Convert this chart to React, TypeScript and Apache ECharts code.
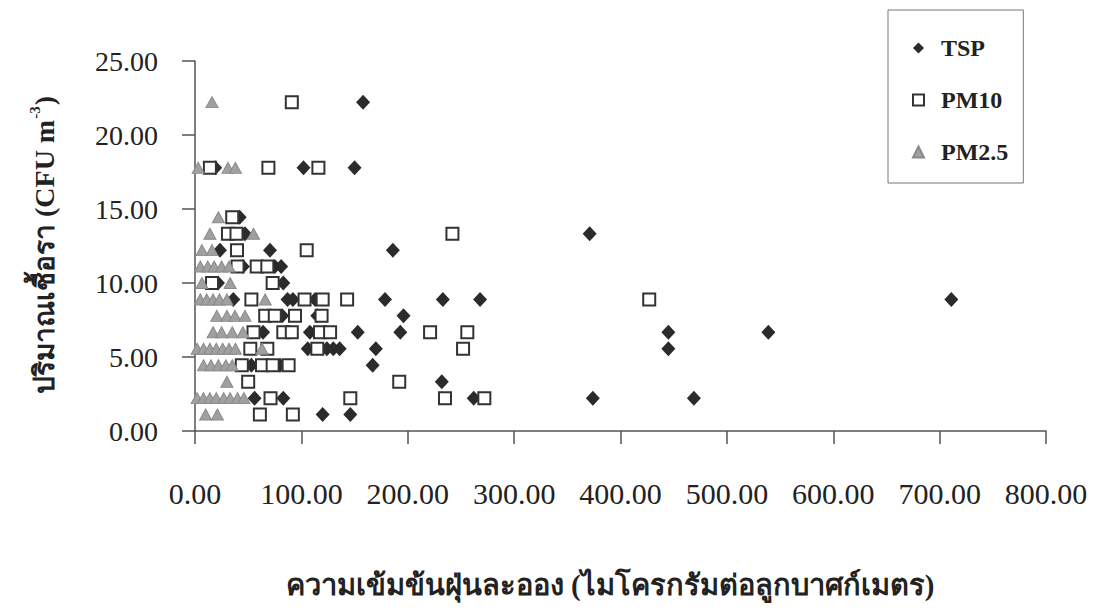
import React, { useEffect, useRef } from "react";
import * as echarts from "echarts";

// y levels are multiples of 1.11 CFU m^-3
const tspData: [number, number][] = [
  [158, 22.22],
  [19, 17.78], [102, 17.78], [150, 17.78],
  [42, 14.44],
  [47, 13.33], [371, 13.33],
  [23.5, 12.22], [70.5, 12.22], [186, 12.22],
  [45, 11.11], [75, 11.11], [81, 11.11],
  [21.6, 10.0], [83, 10.0],
  [36, 8.89], [87, 8.89], [92, 8.89], [113, 8.89], [178.6, 8.89], [233, 8.89], [268, 8.89], [711, 8.89],
  [82, 7.78], [115, 7.78], [196, 7.78],
  [64, 6.67], [108, 6.67], [153, 6.67], [193, 6.67], [445, 6.67], [539, 6.67],
  [106, 5.56], [124, 5.56], [130, 5.56], [136, 5.56], [170, 5.56], [445, 5.56],
  [53, 4.44], [80, 4.44], [167, 4.44],
  [232, 3.33],
  [56, 2.22], [83, 2.22], [262, 2.22], [374, 2.22], [469, 2.22],
  [120, 1.11], [146, 1.11],
];

const pm10Data: [number, number][] = [
  [91, 22.22],
  [14, 17.78], [69, 17.78], [116, 17.78],
  [35, 14.44],
  [31, 13.33], [39, 13.33], [242, 13.33],
  [39.5, 12.22], [105, 12.22],
  [40, 11.11], [58, 11.11], [68, 11.11],
  [16, 10.0], [73, 10.0],
  [53, 8.89], [103, 8.89], [120, 8.89], [143, 8.89], [427, 8.89],
  [66, 7.78], [75, 7.78], [94, 7.78], [119, 7.78],
  [55, 6.67], [83, 6.67], [91, 6.67], [117.5, 6.67], [127, 6.67], [221, 6.67], [256, 6.67],
  [52, 5.56], [68, 5.56], [115, 5.56], [252, 5.56],
  [44, 4.44], [63, 4.44], [73, 4.44], [88, 4.44],
  [50, 3.33], [192, 3.33],
  [71, 2.22], [146, 2.22], [235, 2.22], [272, 2.22],
  [61, 1.11], [92, 1.11],
];

const pm25Data: [number, number][] = [
  [16, 22.22],
  [3, 17.78], [31, 17.78], [38, 17.78],
  [22, 14.44],
  [14, 13.33], [55, 13.33],
  [6.5, 12.22], [16, 12.22],
  [5, 11.11], [12, 11.11], [18, 11.11], [25, 11.11], [32, 11.11],
  [6.5, 10.0], [33, 10.0],
  [5, 8.89], [11, 8.89], [17, 8.89], [23, 8.89], [30, 8.89], [66, 8.89],
  [20.5, 7.78], [30, 7.78], [37.6, 7.78], [47, 7.78],
  [17, 6.67], [25, 6.67], [35, 6.67], [45, 6.67],
  [2, 5.56], [8, 5.56], [14, 5.56], [20, 5.56], [26, 5.56], [32, 5.56], [38, 5.56], [63, 5.56],
  [8, 4.44], [15, 4.44], [22, 4.44], [29, 4.44], [35, 4.44],
  [30, 3.33],
  [2, 2.22], [8, 2.22], [14, 2.22], [20, 2.22], [27, 2.22], [33, 2.22], [40, 2.22], [46, 2.22],
  [10, 1.11], [21, 1.11],
];

const seriesNames = ["TSP", "PM10", "PM2.5"];
const xTitle = "ความเข้มข้นฝุ่นละออง (ไมโครกรัมต่อลูกบาศก์เมตร)";
const yTitle = "ปริมาณเชื้อรา (CFU m";

const SERIF = "'Liberation Serif', 'Times New Roman', serif";
const TEXT = "#222";

export default function App() {
  const ref = useRef<HTMLDivElement>(null);

  useEffect(() => {
    if (!ref.current) return;
    const chart = echarts.init(ref.current, undefined, { renderer: "svg" });
    chart.setOption({
      animation: false,
      backgroundColor: "#ffffff",
      grid: { left: 195, right: 47, top: 61, bottom: 179, containLabel: false },
      xAxis: {
        type: "value",
        min: 0,
        max: 800,
        interval: 100,
        splitLine: { show: false },
        axisLine: { show: true, lineStyle: { color: "#555", width: 1.5 } },
        axisTick: { show: true, inside: false, length: 13, lineStyle: { color: "#555", width: 1.5 } },
        axisLabel: {
          margin: 47,
          color: TEXT,
          fontFamily: SERIF,
          fontSize: 30,
          formatter: (v: number) => v.toFixed(2),
        },
      },
      yAxis: {
        type: "value",
        min: 0,
        max: 25,
        interval: 5,
        splitLine: { show: false },
        axisLine: { show: true, lineStyle: { color: "#555", width: 1.5 } },
        axisTick: { show: true, inside: false, length: 13, lineStyle: { color: "#555", width: 1.5 } },
        axisLabel: {
          margin: 37,
          color: TEXT,
          fontFamily: SERIF,
          fontSize: 28,
          formatter: (v: number) => v.toFixed(2),
        },
      },
      legend: {
        show: true,
        orient: "vertical",
        left: 888,
        top: 10,
        padding: [26, 15, 19, 24],
        itemGap: 28,
        itemWidth: 11,
        itemHeight: 11,
        borderColor: "#777",
        borderWidth: 1,
        backgroundColor: "#fff",
        data: seriesNames,
        textStyle: {
          fontFamily: SERIF,
          fontSize: 24,
          fontWeight: "bold",
          color: TEXT,
          padding: [0, 0, 0, 12],
        },
      },
      series: [
        {
          name: seriesNames[0],
          type: "scatter",
          symbol: "diamond",
          symbolSize: [14, 15],
          data: tspData,
          itemStyle: { color: "#2b2b2b", opacity: 1 },
          z: 2,
        },
        {
          name: seriesNames[1],
          type: "scatter",
          symbol: "rect",
          symbolSize: 12,
          data: pm10Data,
          itemStyle: { color: "#ffffff", borderColor: "#333", borderWidth: 2, opacity: 1 },
          z: 3,
        },
        {
          name: seriesNames[2],
          type: "scatter",
          symbol: "triangle",
          symbolSize: [12, 11],
          data: pm25Data,
          itemStyle: { color: "#a0a0a0", borderColor: "#8a8a8a", borderWidth: 1, opacity: 1 },
          z: 4,
        },
      ],
      graphic: [
        {
          type: "text",
          x: 610,
          y: 585,
          style: {
            text: xTitle,
            fill: TEXT,
            font: `bold 29px ${SERIF}`,
            align: "center",
            verticalAlign: "middle",
          },
        },
        {
          type: "text",
          x: 44,
          y: 245,
          rotation: Math.PI / 2,
          style: {
            text: `{t|${yTitle}}{sup|-3}{t|)}`,
            fill: TEXT,
            align: "center",
            verticalAlign: "middle",
            rich: {
              t: { fontFamily: SERIF, fontSize: 28, fontWeight: "bold", fill: TEXT, lineHeight: 34 },
              sup: {
                fontFamily: SERIF,
                fontSize: 15,
                fontWeight: "bold",
                fill: TEXT,
                verticalAlign: "top",
                lineHeight: 34,
                padding: [0, 1, 12, 1],
              },
            },
          },
        },
      ],
    });
    return () => chart.dispose();
  }, []);

  return (
    <div
      ref={ref}
      style={{ position: "fixed", left: 0, top: 0, width: 1093, height: 610, background: "#fff" }}
    />
  );
}
